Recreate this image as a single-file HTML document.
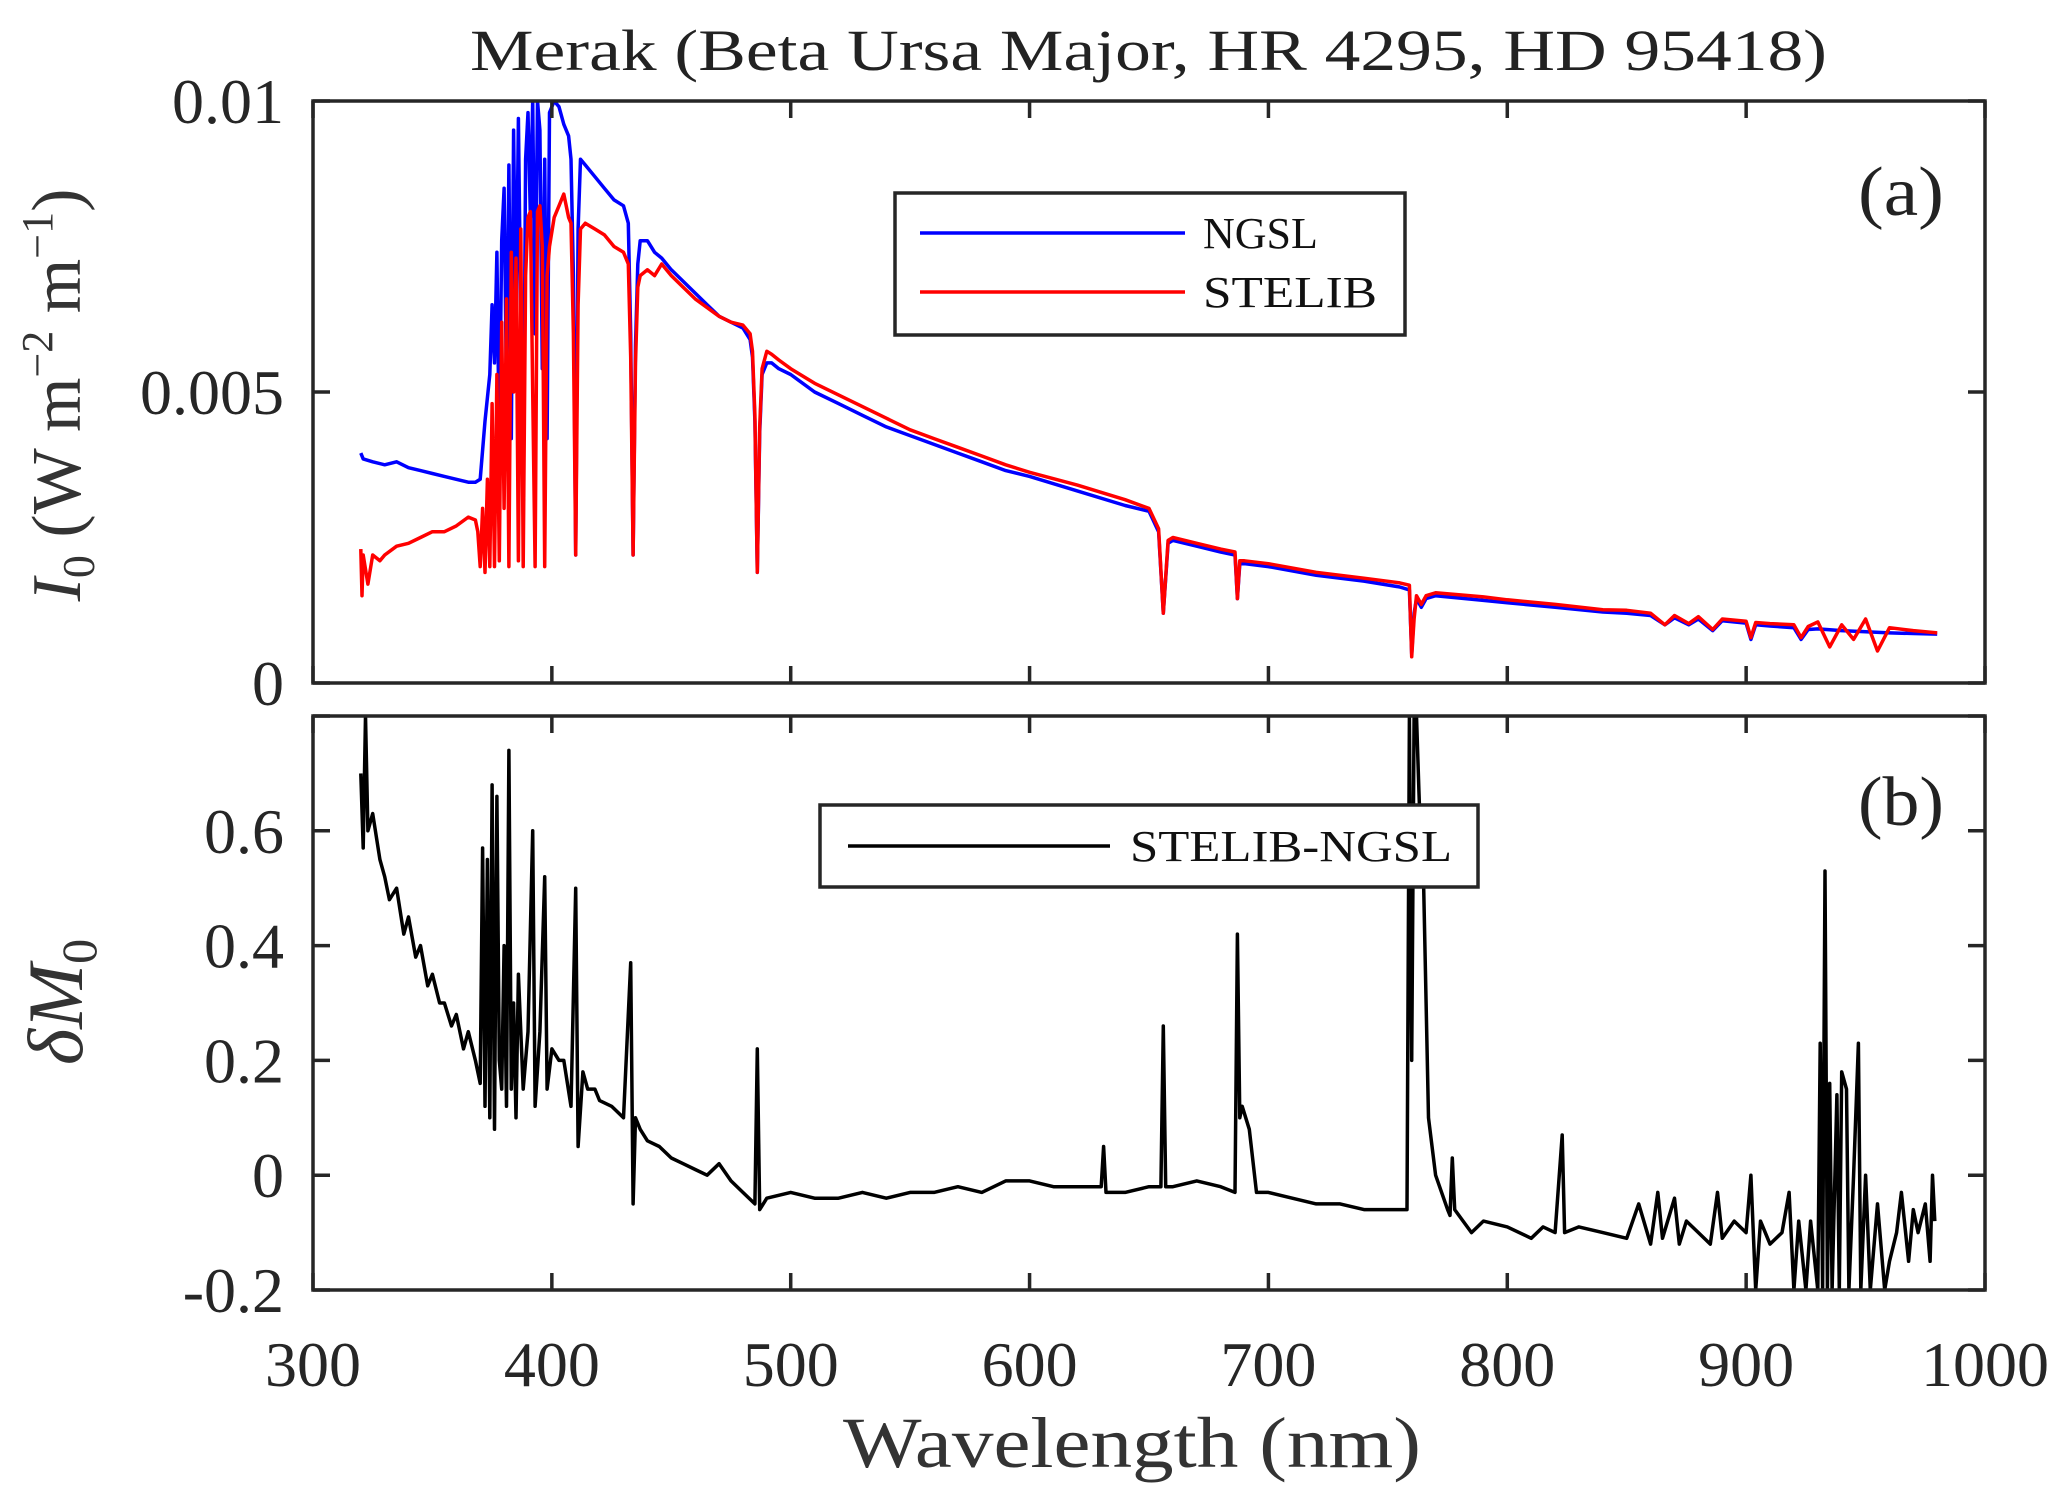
<!DOCTYPE html>
<html><head><meta charset="utf-8"><style>
html,body{margin:0;padding:0;background:#fff;}
svg{display:block;font-family:"Liberation Serif",serif;}
</style></head><body>
<svg id="chart" width="2067" height="1506" viewBox="0 0 2067 1506" xmlns="http://www.w3.org/2000/svg">
<rect width="2067" height="1506" fill="#fff"/>
<g id="content"></g>
</svg>
<script>
const xTicks=[300,400,500,600,700,800,900,1000];
const topTicks=[0,0.005,0.01];
const topTickLabels=["0","0.005","0.01"];
const botTicks=[-0.2,0,0.2,0.4,0.6,0.8];
const botTickLabels=["-0.2","0","0.2","0.4","0.6",""];
// NGSL (units of 1e-3 W m^-2 m^-1)
const ngslWl=[320,321,325,330,335,340,345,350,355,360,365,368,370,371,372,374,375,376,377,378,379,380,381,382,383,384,385,386,387,388,389,390,391,392,393,394,395,396,397,398,399,401,403,405,407,408,409,410,411,412,414,418,422,426,430,432,433,434,435,436,437,440,443,446,450,455,460,465,470,475,480,483,484,485,486,487,488,490,492,495,500,510,520,530,540,550,560,570,580,590,600,620,640,650,654,656,658,660,670,680,686,687,688,690,700,720,740,755,759,760,761,762,764,766,770,790,800,820,840,850,860,866,870,876,880,886,890,900,902,904,910,920,923,926,930,940,950,960,970,980];
const ngslVal=[3.95,3.85,3.8,3.75,3.8,3.7,3.65,3.6,3.55,3.5,3.45,3.45,3.5,4.0,4.5,5.3,6.5,5.5,7.4,4.0,7.6,8.5,5.0,8.9,4.2,9.5,6.0,9.7,6.2,2.9,9.0,9.8,8.0,10.0,6.0,10.0,9.5,5.4,9.0,4.2,9.8,10.0,9.9,9.6,9.4,9.0,7.0,2.2,7.8,9.0,8.9,8.7,8.5,8.3,8.2,7.9,6.0,2.2,5.8,7.2,7.6,7.6,7.4,7.3,7.1,6.9,6.7,6.5,6.3,6.2,6.1,5.9,5.6,4.5,1.9,4.3,5.3,5.5,5.5,5.4,5.3,5.0,4.8,4.6,4.4,4.25,4.1,3.95,3.8,3.65,3.55,3.3,3.05,2.95,2.6,1.2,2.4,2.45,2.35,2.25,2.2,1.45,2.05,2.05,2.0,1.85,1.75,1.65,1.6,0.5,1.2,1.45,1.3,1.45,1.5,1.42,1.38,1.3,1.22,1.2,1.16,1.0,1.12,1.0,1.1,0.9,1.07,1.03,0.75,1.0,0.98,0.95,0.75,0.92,0.93,0.9,0.88,0.86,0.85,0.84];
// STELIB
const stelWl=[320,320.5,321,323,325,328,330,335,340,345,350,355,360,365,368,369,370,371,372,373,374,375,376,377,378,379,380,381,382,383,384,385,386,387,388,389,390,391,392,393,394,395,396,397,398,399,401,403,405,407,408,409,410,411,412,414,418,422,426,430,432,433,434,435,436,437,440,443,446,450,455,460,465,470,475,480,483,484,485,486,487,488,490,492,495,500,510,520,530,540,550,560,570,580,590,600,620,640,650,654,656,658,660,670,680,686,687,688,690,700,720,740,755,759,760,761,762,764,766,770,790,800,820,840,850,860,866,870,876,880,886,890,900,902,904,910,920,923,926,930,935,940,945,950,955,960,970,980];
const stelVal=[2.3,1.5,2.2,1.7,2.2,2.1,2.2,2.35,2.4,2.5,2.6,2.6,2.7,2.85,2.8,2.6,2.0,3.0,1.9,3.5,2.0,4.8,2.0,5.3,2.1,6.2,3.0,6.6,2.0,7.4,5.0,7.3,2.1,7.8,2.0,7.0,8.0,8.1,5.0,2.0,8.1,8.2,7.5,2.0,7.0,7.5,8.0,8.2,8.4,8.0,7.9,6.0,2.2,6.5,7.8,7.9,7.8,7.7,7.5,7.4,7.2,5.6,2.2,5.5,6.8,7.0,7.1,7.0,7.2,7.0,6.8,6.6,6.45,6.3,6.2,6.15,6.0,5.7,4.6,1.9,4.4,5.4,5.7,5.65,5.55,5.4,5.15,4.95,4.75,4.55,4.35,4.2,4.05,3.9,3.75,3.62,3.4,3.15,3.0,2.65,1.2,2.45,2.5,2.4,2.3,2.25,1.45,2.1,2.1,2.05,1.9,1.8,1.72,1.68,0.45,1.1,1.5,1.35,1.5,1.55,1.48,1.43,1.35,1.26,1.25,1.2,1.0,1.16,1.02,1.14,0.92,1.1,1.06,0.78,1.04,1.02,1.0,0.78,0.97,1.05,0.62,1.0,0.75,1.1,0.55,0.95,0.9,0.86];
// delta M0
const dWl=[320,321,322,323,325,328,330,332,335,338,340,343,345,348,350,353,355,358,360,363,365,368,370,371,372,373,374,375,376,377,378,379,380,381,382,383,384,385,386,388,390,392,393,395,397,398,400,403,405,408,410,411,413,415,418,420,425,430,433,434,435,437,440,445,450,455,460,465,470,475,480,485,486,487,490,500,510,520,530,540,550,560,570,580,590,600,610,620,630,631,632,640,650,655,656,657,660,670,680,686,687,688,689,692,695,700,710,720,730,740,750,758,759,760,761,762,763,764,765,766,767,770,775,776,777,778,785,790,800,810,815,820,823,824,830,840,850,855,860,863,865,870,872,875,880,885,888,890,895,900,902,904,906,910,915,918,920,922,925,927,930,931,932,933,934,935,936,938,939,940,942,943,945,947,948,950,952,955,958,960,963,965,968,970,972,975,977,978,979];
const dVal=[0.7,0.57,0.8,0.6,0.63,0.55,0.52,0.48,0.5,0.42,0.45,0.38,0.4,0.33,0.35,0.3,0.3,0.26,0.28,0.22,0.25,0.2,0.16,0.57,0.12,0.55,0.1,0.68,0.08,0.66,0.2,0.15,0.4,0.12,0.74,0.15,0.3,0.1,0.35,0.15,0.25,0.6,0.12,0.25,0.52,0.15,0.22,0.2,0.2,0.12,0.5,0.05,0.18,0.15,0.15,0.13,0.12,0.1,0.37,-0.05,0.1,0.08,0.06,0.05,0.03,0.02,0.01,0.0,0.02,-0.01,-0.03,-0.05,0.22,-0.06,-0.04,-0.03,-0.04,-0.04,-0.03,-0.04,-0.03,-0.03,-0.02,-0.03,-0.01,-0.01,-0.02,-0.02,-0.02,0.05,-0.03,-0.03,-0.02,-0.02,0.26,-0.02,-0.02,-0.01,-0.02,-0.03,0.42,0.1,0.12,0.08,-0.03,-0.03,-0.04,-0.05,-0.05,-0.06,-0.06,-0.06,0.8,0.2,0.8,0.8,0.67,0.55,0.5,0.3,0.1,0.0,-0.06,-0.07,0.03,-0.06,-0.1,-0.08,-0.09,-0.11,-0.09,-0.1,0.07,-0.1,-0.09,-0.1,-0.11,-0.05,-0.12,-0.03,-0.11,-0.04,-0.12,-0.08,-0.1,-0.12,-0.03,-0.11,-0.08,-0.1,0.0,-0.2,-0.08,-0.12,-0.1,-0.03,-0.2,-0.08,-0.2,-0.08,-0.2,0.23,-0.2,0.53,-0.2,0.16,-0.2,0.14,-0.2,0.18,0.15,-0.2,0.0,0.23,-0.2,0.0,-0.2,-0.05,-0.2,-0.15,-0.1,-0.03,-0.15,-0.06,-0.1,-0.05,-0.15,0.0,-0.08];

const NS="http://www.w3.org/2000/svg";
const root=document.getElementById('content');
const L=313,R=1985;
const T1=101,B1=683,T2=716,B2=1290;
const xs=v=>L+(v-300)/700*(R-L);
const y1=v=>B1-(v/0.01)*(B1-T1);
const y2=v=>B2-(v+0.2)/1.0*(B2-T2);
function el(tag,attrs,parent){const e=document.createElementNS(NS,tag);for(const k in attrs)e.setAttribute(k,attrs[k]);(parent||root).appendChild(e);return e;}
function txt(s,attrs){const e=el('text',attrs);e.textContent=s;return e;}

const defs=el('defs',{});
const c1=el('clipPath',{id:'c1'},defs);el('rect',{x:L,y:T1,width:R-L,height:B1-T1},c1);
const c2=el('clipPath',{id:'c2'},defs);el('rect',{x:L,y:T2,width:R-L,height:B2-T2},c2);

function line(wl,val,yf,color,clip,name){
  let d='';wl.forEach((w,i)=>{d+=(i?'L':'M')+xs(w).toFixed(1)+','+yf(val[i]).toFixed(1);});
  const p=el('path',{d:d,fill:'none',stroke:color,'stroke-width':3.5,'stroke-linejoin':'round','clip-path':'url(#'+clip+')'});
  
  
}
line(ngslWl,ngslVal.map(v=>v/1000),y1,'#0000ff','c1','ngsl-line');
line(stelWl,stelVal.map(v=>v/1000),y1,'#ff0000','c1','stelib-line');
line(dWl,dVal,y2,'#000000','c2','delta-m-line');

const ax='#262626';
function frame(T,B,name){
  const r=el('rect',{x:L,y:T,width:R-L,height:B-T,fill:'none',stroke:ax,'stroke-width':3.5});
  
  
  xTicks.forEach(v=>{const x=xs(v);
    el('line',{x1:x,x2:x,y1:B,y2:B-17,stroke:ax,'stroke-width':3.5});
    el('line',{x1:x,x2:x,y1:T,y2:T+17,stroke:ax,'stroke-width':3.5});});
}
frame(T1,B1,'top-axes');frame(T2,B2,'bottom-axes');
topTicks.forEach((v,i)=>{const y=y1(v);
  el('line',{x1:L,x2:L+17,y1:y,y2:y,stroke:ax,'stroke-width':3.5});
  el('line',{x1:R,x2:R-17,y1:y,y2:y,stroke:ax,'stroke-width':3.5});
  const t=txt(topTickLabels[i],{x:284,y:y+22,'text-anchor':'end','font-size':64,fill:ax});
  
  
});
botTicks.forEach((v,i)=>{const y=y2(v);
  el('line',{x1:L,x2:L+17,y1:y,y2:y,stroke:ax,'stroke-width':3.5});
  el('line',{x1:R,x2:R-17,y1:y,y2:y,stroke:ax,'stroke-width':3.5});
  if(botTickLabels[i]){const t=txt(botTickLabels[i],{x:284,y:y+22,'text-anchor':'end','font-size':64,fill:ax});
  
  }
});
xTicks.forEach(v=>{const t=txt(String(v),{x:xs(v),y:1386,'text-anchor':'middle','font-size':64,fill:ax});
  
  });
</script>
<script>
(function(){
const NS="http://www.w3.org/2000/svg";const root=document.getElementById('content');
function T(s,a,name){const e=document.createElementNS(NS,'text');for(const k in a)e.setAttribute(k,a[k]);e.textContent=s;
 
 
 root.appendChild(e);return e;}
T('Merak (Beta Ursa Major, HR 4295, HD 95418)',{x:470,y:70,'font-size':58,fill:'#222',textLength:1357,lengthAdjust:'spacingAndGlyphs'},'chart-title');
T('Wavelength (nm)',{x:843,y:1467,'font-size':72,fill:'#333',textLength:578,lengthAdjust:'spacingAndGlyphs'},'x-axis-title');
T('(a)',{x:1858,y:215,'font-size':70,fill:'#222',textLength:86,lengthAdjust:'spacingAndGlyphs'},'panel-a-label');
T('(b)',{x:1858,y:825,'font-size':70,fill:'#222',textLength:86,lengthAdjust:'spacingAndGlyphs'},'panel-b-label');
const g1=document.createElementNS(NS,'text');
g1.setAttribute('transform','translate(80,395) rotate(-90)');g1.setAttribute('text-anchor','middle');g1.setAttribute('font-size','70');g1.setAttribute('fill','#333');
g1.innerHTML='<tspan font-style="italic">I</tspan><tspan font-size="46" dy="14">0</tspan><tspan dy="-14"> (W  m</tspan><tspan font-size="44" dy="-28">−2</tspan><tspan dy="28"> m</tspan><tspan font-size="44" dy="-28">−1</tspan><tspan dy="28">)</tspan>';


root.appendChild(g1);
const g2=document.createElementNS(NS,'text');
g2.setAttribute('transform','translate(82,1002) rotate(-90)');g2.setAttribute('text-anchor','middle');g2.setAttribute('font-size','78');g2.setAttribute('fill','#333');
g2.innerHTML='<tspan font-style="italic">δM</tspan><tspan font-size="50" dy="14">0</tspan>';


root.appendChild(g2);
function rect(a,name){const r=document.createElementNS(NS,'rect');for(const k in a)r.setAttribute(k,a[k]);
 
 
 root.appendChild(r);}
function ln(a){const r=document.createElementNS(NS,'line');for(const k in a)r.setAttribute(k,a[k]);root.appendChild(r);}
rect({x:895,y:193,width:510,height:142,fill:'#fff',stroke:'#262626','stroke-width':3.5},'top-legend');
ln({x1:920,x2:1185,y1:233,y2:233,stroke:'#0000ff','stroke-width':3.5});
ln({x1:920,x2:1185,y1:292,y2:292,stroke:'#ff0000','stroke-width':3.5});
T('NGSL',{x:1203,y:248,'font-size':44,fill:'#111'},'legend-ngsl');
T('STELIB',{x:1203,y:307,'font-size':44,fill:'#111',textLength:174,lengthAdjust:'spacingAndGlyphs'},'legend-stelib');
rect({x:820,y:805,width:658,height:82,fill:'#fff',stroke:'#262626','stroke-width':3.5},'bottom-legend');
ln({x1:848,x2:1110,y1:846,y2:846,stroke:'#000','stroke-width':3.5});
T('STELIB-NGSL',{x:1130,y:861,'font-size':44,fill:'#111',textLength:322,lengthAdjust:'spacingAndGlyphs'},'legend-stelib-ngsl');
})();
</script>
</body></html>
